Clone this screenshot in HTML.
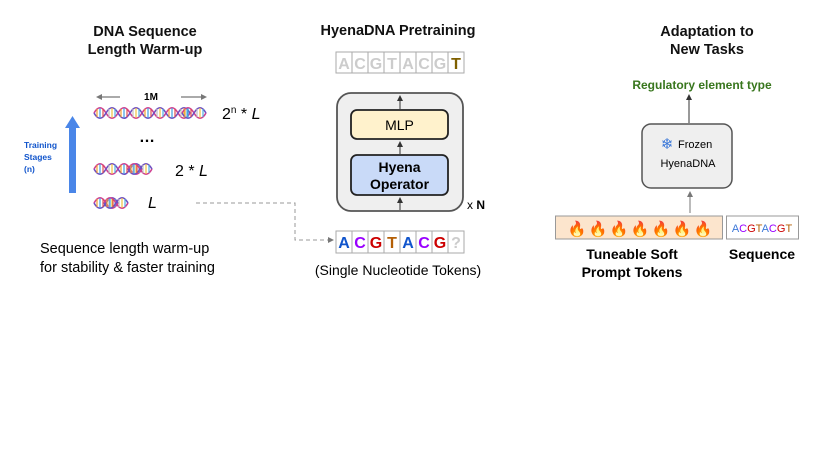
<!DOCTYPE html>
<html><head><meta charset="utf-8"><style>
html,body{margin:0;padding:0;background:#fff;}
svg{display:block;font-family:"Liberation Sans",Arial,sans-serif;}
</style></head><body>
<svg width="830" height="467" viewBox="0 0 830 467" xmlns="http://www.w3.org/2000/svg">
<defs>
<marker id="ah" markerWidth="6" markerHeight="6" refX="5" refY="3" orient="auto"><path d="M0,0 L6,3 L0,6 z" fill="#333"/></marker>
<marker id="ahg" markerWidth="6" markerHeight="6" refX="5" refY="3" orient="auto"><path d="M0,0 L6,3 L0,6 z" fill="#777"/></marker>
<g id="helix">
<path d="M0,0 C4,-7 8,-7 12,0 C16,7 20,7 24,0" fill="none" stroke="#d04090" stroke-width="1.6"/>
<path d="M0,0 C4,7 8,7 12,0 C16,-7 20,-7 24,0" fill="none" stroke="#7050c0" stroke-width="1.6"/>
<g stroke-width="1.2"><line x1="3" y1="-4" x2="3" y2="4" stroke="#f0a030"/><line x1="6" y1="-5" x2="6" y2="5" stroke="#40a0e0"/><line x1="9" y1="-4" x2="9" y2="4" stroke="#e05050"/><line x1="15" y1="-4" x2="15" y2="4" stroke="#c0c0c0"/><line x1="18" y1="-5" x2="18" y2="5" stroke="#f0c040"/><line x1="21" y1="-4" x2="21" y2="4" stroke="#50b0e0"/></g>
</g>
</defs>

<!-- Left -->
<text x="145" y="36" font-size="14.5" font-weight="bold" text-anchor="middle" fill="#111">DNA Sequence</text>
<text x="145" y="54" font-size="14.5" font-weight="bold" text-anchor="middle" fill="#111">Length Warm-up</text>

<rect x="69" y="128" width="7" height="65" fill="#4a86e8"/>
<path d="M65,128 L72.5,116 L80,128 z" fill="#4a86e8"/>
<text font-size="8.5" font-weight="bold" fill="#1155cc"><tspan x="24" y="148">Training</tspan><tspan x="24" y="160">Stages</tspan><tspan x="24" y="172">(n)</tspan></text>

<line x1="120" y1="97" x2="97" y2="97" stroke="#555" stroke-width="1" marker-end="url(#ahg)"/>
<line x1="181" y1="97" x2="206" y2="97" stroke="#555" stroke-width="1" marker-end="url(#ahg)"/>
<text x="151" y="100" font-size="10" font-weight="bold" text-anchor="middle">1M</text>

<use href="#helix" x="94" y="113"/><use href="#helix" x="118" y="113"/><use href="#helix" x="142" y="113"/><use href="#helix" x="166" y="113"/><use href="#helix" x="182" y="113"/>
<use href="#helix" x="94" y="169"/><use href="#helix" x="118" y="169"/><use href="#helix" x="128" y="169"/>
<use href="#helix" x="94" y="203"/><use href="#helix" x="104" y="203"/>

<text x="222" y="119" font-size="16">2<tspan font-size="10" dy="-6">n</tspan><tspan dy="6"> * </tspan><tspan font-style="italic">L</tspan></text>
<text x="147" y="142" font-size="16" font-weight="bold" text-anchor="middle">…</text>
<text x="175" y="176" font-size="16">2 * <tspan font-style="italic">L</tspan></text>
<text x="148" y="208" font-size="16" font-style="italic">L</text>

<path d="M196,203 L295,203 L295,240 L333,240" fill="none" stroke="#999" stroke-width="1" stroke-dasharray="4,3" marker-end="url(#ahg)"/>

<text x="40" y="253" font-size="14.5">Sequence length warm-up</text>
<text x="40" y="272" font-size="14.5">for stability &amp; faster training</text>

<!-- Middle -->
<text x="398" y="35" font-size="14.5" font-weight="bold" text-anchor="middle" fill="#111">HyenaDNA Pretraining</text>
<g font-size="16" font-weight="bold" text-anchor="middle">
<rect x="336" y="52" width="128" height="21" fill="#fff" stroke="#aaa"/>
<g stroke="#aaa"><line x1="352" y1="52" x2="352" y2="73"/><line x1="368" y1="52" x2="368" y2="73"/><line x1="384" y1="52" x2="384" y2="73"/><line x1="400" y1="52" x2="400" y2="73"/><line x1="416" y1="52" x2="416" y2="73"/><line x1="432" y1="52" x2="432" y2="73"/><line x1="448" y1="52" x2="448" y2="73"/></g>
<g fill="#ccc"><text x="344" y="69">A</text><text x="360" y="69">C</text><text x="376" y="69">G</text><text x="392" y="69">T</text><text x="408" y="69">A</text><text x="424" y="69">C</text><text x="440" y="69">G</text></g>
<text x="456" y="69" fill="#7f6000">T</text>
</g>

<rect x="337" y="93" width="126" height="118" rx="14" fill="#efefef" stroke="#555" stroke-width="1.8"/>
<rect x="351" y="110" width="97" height="29" rx="6" fill="#fff2cc" stroke="#222" stroke-width="1.8"/>
<text x="399.5" y="130" font-size="14" text-anchor="middle">MLP</text>
<rect x="351" y="155" width="97" height="40" rx="6" fill="#c9daf8" stroke="#222" stroke-width="1.8"/>
<text x="399.5" y="172" font-size="14" font-weight="bold" text-anchor="middle">Hyena</text>
<text x="399.5" y="189" font-size="14" font-weight="bold" text-anchor="middle">Operator</text>
<g stroke="#333" stroke-width="1"><line x1="400" y1="210" x2="400" y2="198" marker-end="url(#ah)"/><line x1="400" y1="154" x2="400" y2="142" marker-end="url(#ah)"/><line x1="400" y1="109" x2="400" y2="96" marker-end="url(#ah)"/></g>
<text x="467" y="209" font-size="12">x <tspan font-weight="bold">N</tspan></text>

<g font-size="16" font-weight="bold" text-anchor="middle">
<rect x="336" y="231" width="128" height="22" fill="#fff" stroke="#aaa"/>
<g stroke="#aaa"><line x1="352" y1="231" x2="352" y2="253"/><line x1="368" y1="231" x2="368" y2="253"/><line x1="384" y1="231" x2="384" y2="253"/><line x1="400" y1="231" x2="400" y2="253"/><line x1="416" y1="231" x2="416" y2="253"/><line x1="432" y1="231" x2="432" y2="253"/><line x1="448" y1="231" x2="448" y2="253"/></g>
<text x="344" y="248" fill="#1155cc">A</text><text x="360" y="248" fill="#9900ff">C</text><text x="376" y="248" fill="#cc0000">G</text><text x="392" y="248" fill="#b45f06">T</text><text x="408" y="248" fill="#1155cc">A</text><text x="424" y="248" fill="#9900ff">C</text><text x="440" y="248" fill="#cc0000">G</text><text x="456" y="248" fill="#ccc">?</text>
</g>
<text x="398" y="275" font-size="14" text-anchor="middle">(Single Nucleotide Tokens)</text>

<!-- Right -->
<text x="707" y="36" font-size="14.5" font-weight="bold" text-anchor="middle" fill="#111">Adaptation to</text>
<text x="707" y="54" font-size="14.5" font-weight="bold" text-anchor="middle" fill="#111">New Tasks</text>
<text x="702" y="89" font-size="12" font-weight="bold" text-anchor="middle" fill="#38761d">Regulatory element type</text>
<line x1="689" y1="110" x2="689" y2="95" stroke="#333" stroke-width="1" marker-end="url(#ah)"/>
<line x1="689" y1="110" x2="689" y2="123" stroke="#333" stroke-width="1"/>
<rect x="642" y="124" width="90" height="64" rx="9" fill="#efefef" stroke="#555" stroke-width="1.5"/>
<text x="667" y="149" font-size="15" text-anchor="middle" fill="#3c78d8">❄</text>
<text x="678" y="148" font-size="11">Frozen</text>
<text x="688" y="167" font-size="11" text-anchor="middle">HyenaDNA</text>
<line x1="690" y1="213" x2="690" y2="192" stroke="#777" stroke-width="1" marker-end="url(#ahg)"/>
<rect x="555.5" y="216" width="167" height="23" fill="#fce5cd" stroke="#999"/>
<g font-size="15" text-anchor="middle" fill="#ff7f00">
<text x="577" y="234">🔥</text><text x="598" y="234">🔥</text><text x="619" y="234">🔥</text><text x="640" y="234">🔥</text><text x="661" y="234">🔥</text><text x="682" y="234">🔥</text><text x="703" y="234">🔥</text>
</g>
<rect x="726.5" y="216" width="72" height="23" fill="#fff" stroke="#999"/>
<text x="762" y="232" font-size="11" text-anchor="middle"><tspan fill="#3c78d8">A</tspan><tspan fill="#9900ff">C</tspan><tspan fill="#cc0000">G</tspan><tspan fill="#b45f06">T</tspan><tspan fill="#3c78d8">A</tspan><tspan fill="#9900ff">C</tspan><tspan fill="#cc0000">G</tspan><tspan fill="#b45f06">T</tspan></text>
<text x="632" y="259" font-size="14" font-weight="bold" text-anchor="middle">Tuneable Soft</text>
<text x="632" y="277" font-size="14" font-weight="bold" text-anchor="middle">Prompt Tokens</text>
<text x="762" y="259" font-size="14" font-weight="bold" text-anchor="middle">Sequence</text>
</svg>
</body></html>
